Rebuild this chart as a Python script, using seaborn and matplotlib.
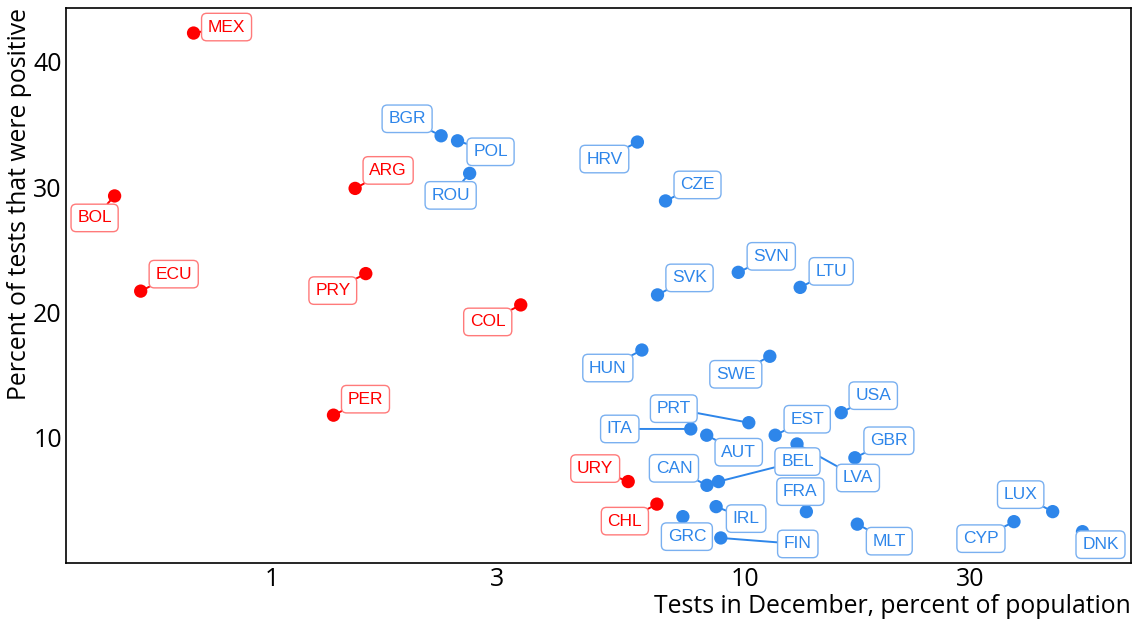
import matplotlib
matplotlib.use('Agg')
import matplotlib.pyplot as plt
import seaborn as sns
import pandas as pd

# Data
countries = ['MEX', 'BOL', 'ECU', 'ARG', 'PRY', 'PER', 'COL', 'URY', 'CHL',
             'BGR', 'POL', 'ROU', 'HRV', 'CZE', 'SVN', 'LTU', 'SVK', 'HUN', 'SWE',
             'PRT', 'USA', 'ITA', 'AUT', 'EST', 'LVA', 'GBR', 'CAN', 'BEL', 'IRL',
             'GRC', 'FRA', 'FIN', 'MLT', 'CYP', 'LUX', 'DNK']
tests = [0.683, 0.465, 0.528, 1.50, 1.58, 1.35, 3.36, 5.67, 6.52,
         2.28, 2.47, 2.62, 5.93, 6.80, 9.69, 13.1, 6.54, 6.06, 11.3,
         10.2, 16.0, 7.69, 8.31, 11.6, 12.9, 17.1, 8.32, 8.80, 8.70,
         7.40, 13.5, 8.90, 17.3, 37.1, 44.8, 51.8]
positive = [42.3, 29.3, 21.7, 29.9, 23.1, 11.8, 20.6, 6.5, 4.7,
            34.1, 33.7, 31.1, 33.6, 28.9, 23.2, 22.0, 21.4, 17.0, 16.5,
            11.2, 12.0, 10.7, 10.2, 10.2, 9.5, 8.4, 6.2, 6.5, 4.5,
            3.7, 4.1, 2.0, 3.1, 3.3, 4.1, 2.5]
region = ['Latin America'] * 9 + ['Other'] * 27

x_ticks = [1, 3, 10, 30]
y_ticks = [10, 20, 30, 40]

# label placement (pixel offsets from each point)
label_offsets = {
    'MEX': (33, 6), 'BOL': (-20, -22), 'ECU': (33, 17), 'ARG': (33, 18),
    'PRY': (-33, -17), 'PER': (32, 16), 'COL': (-33, -17), 'URY': (-33, 13),
    'CHL': (-32, -17), 'BGR': (-34, 17), 'POL': (33, -11), 'ROU': (-19, -22),
    'HRV': (-33, -17), 'CZE': (32, 16), 'SVN': (33, 16), 'LTU': (31, 16),
    'SVK': (32, 17), 'HUN': (-34, -18), 'SWE': (-34, -18), 'PRT': (-75, 14),
    'USA': (32, 17), 'ITA': (-71, 0), 'AUT': (32, -17), 'EST': (32, 16),
    'LVA': (61, -34), 'GBR': (34, 17), 'CAN': (-33, 17), 'BEL': (79, 20),
    'IRL': (30, -12), 'GRC': (4, -20), 'FRA': (-6, 20), 'FIN': (77, -6),
    'MLT': (32, -17), 'CYP': (-33, -17), 'LUX': (-32, 17), 'DNK': (18, -13),
}

colors = {'Latin America': '#ff0000', 'Other': '#2e86ea'}
edge_colors = {'Latin America': '#ff7a7a', 'Other': '#7ab0f0'}

df = pd.DataFrame({'country': countries, 'tests': tests,
                   'positive': positive, 'region': region})

sns.set_theme(style='white')
plt.rcParams['font.family'] = ['Open Sans', 'DejaVu Sans']

fig = plt.figure(figsize=(11.4, 6.21), dpi=100)
ax = fig.add_axes([66 / 1140, 58 / 621, 1065 / 1140, 555 / 621])

sns.scatterplot(data=df, x='tests', y='positive', hue='region',
                palette=colors, s=92, linewidth=0, legend=False, ax=ax, zorder=3)

for _, row in df.iterrows():
    dx, dy = label_offsets[row['country']]
    ax.annotate(row['country'], (row['tests'], row['positive']),
                xytext=(dx, dy), textcoords='offset pixels',
                ha='center', va='center', fontsize=12.5,
                family='Liberation Sans', color=colors[row['region']],
                bbox=dict(boxstyle='round,pad=0.36,rounding_size=0.3',
                          fc='white', ec=edge_colors[row['region']], lw=1.0),
                arrowprops=dict(arrowstyle='-', color=colors[row['region']],
                                lw=1.4, shrinkA=0, shrinkB=0),
                zorder=4)

ax.set_xscale('log')
ax.set_xlim(0.367, 65.6)
ax.set_ylim(0, 44.3)
ax.set_xticks(x_ticks)
ax.set_xticklabels([str(t) for t in x_ticks])
ax.xaxis.set_minor_locator(matplotlib.ticker.NullLocator())
ax.set_yticks(y_ticks)
ax.tick_params(axis='both', length=0, labelsize=18, colors='black')
ax.tick_params(axis='x', pad=3)
ax.tick_params(axis='y', pad=3)

ax.set_xlabel('Tests in December, percent of population', fontsize=17.8,
              loc='right', labelpad=1, color='black')
ax.set_ylabel('Percent of tests that were positive', fontsize=17.8,
              loc='top', labelpad=1, color='black')

for sp in ax.spines.values():
    sp.set_color('black')
    sp.set_linewidth(1.2)
ax.grid(False)

fig.savefig('out.png', dpi=100)
